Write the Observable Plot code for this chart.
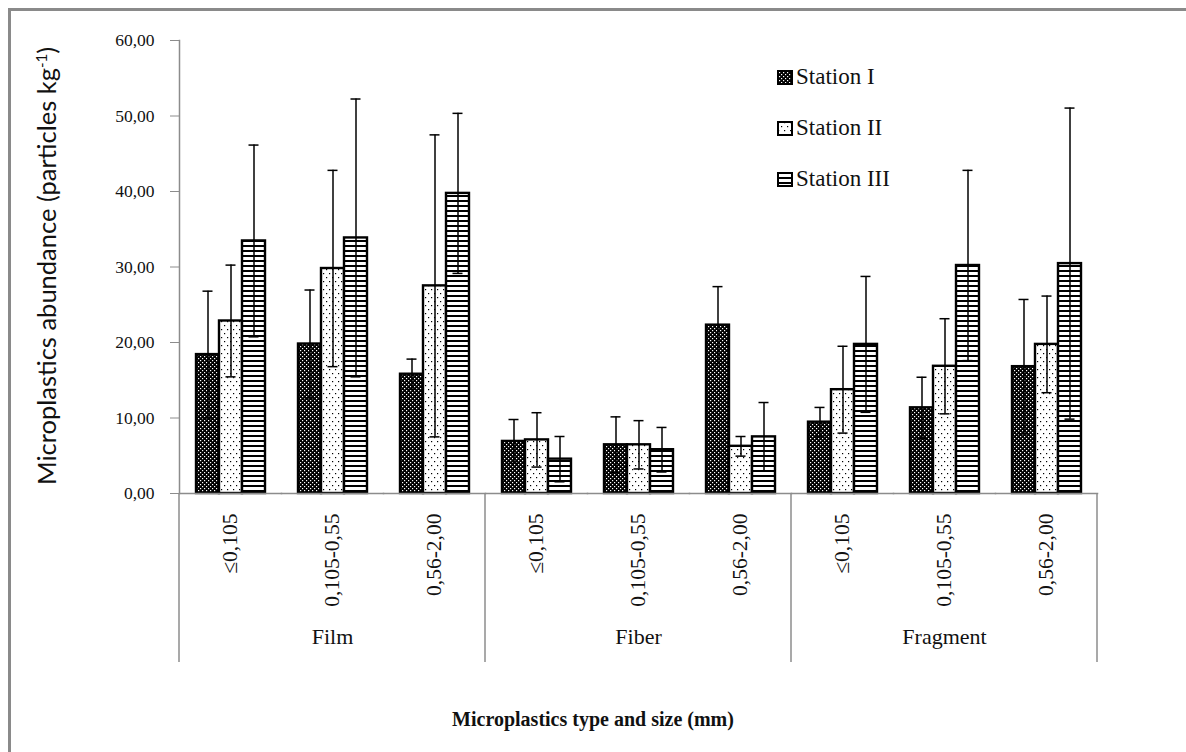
<!DOCTYPE html>
<html>
<head>
<meta charset="utf-8">
<script src="https://cdn.jsdelivr.net/npm/d3@7"></script>
<script src="https://cdn.jsdelivr.net/npm/@observablehq/plot@0.6"></script>
<style>
  html, body { margin: 0; padding: 0; background: #fff; }
  #wrap { position: relative; width: 1186px; height: 752px; overflow: hidden; background: #fff; }
  #border { position: absolute; left: 8px; top: 8px; width: 1300px; height: 900px; border-top: 3px solid #8a8a8a; border-left: 3px solid #8a8a8a; box-sizing: border-box; }
  #chart { position: absolute; left: 0; top: 0; }
  #ytitle { position: absolute; left: 46px; top: 266px; transform: translate(-50%, -50%) rotate(-90deg); white-space: nowrap; font-family: Lato, "Open Sans", sans-serif; font-size: 25.5px; color: #111; }
  #ytitle sup { font-size: 15px; }
  #xtitle { position: absolute; left: 593px; top: 719px; transform: translate(-50%, -50%); white-space: nowrap; font-family: "Liberation Serif", "Times New Roman", serif; font-weight: bold; font-size: 20px; color: #111; }
  .leg { position: absolute; left: 777px; display: flex; align-items: center; font-family: "Liberation Serif", "Times New Roman", serif; font-size: 23px; color: #111; white-space: nowrap; height: 30px; }
  .leg svg { margin-right: 3px; }
</style>
</head>
<body>
<svg width="0" height="0" style="position:absolute">
  <defs>
    <pattern id="pI" patternUnits="userSpaceOnUse" width="4" height="4">
      <rect width="4" height="4" fill="#000"/>
      <rect x="0" y="0" width="1.2" height="1.2" fill="#fff"/>
      <rect x="2" y="2" width="1.2" height="1.2" fill="#fff"/>
    </pattern>
    <pattern id="pII" patternUnits="userSpaceOnUse" width="6" height="8">
      <rect width="6" height="8" fill="#fff"/>
      <rect x="1" y="1" width="1.2" height="1.2" fill="#000"/>
      <rect x="4" y="5" width="1.2" height="1.2" fill="#000"/>
    </pattern>
    <pattern id="pIII" patternUnits="userSpaceOnUse" width="10" height="5">
      <rect width="10" height="5" fill="#fff"/>
      <rect x="0" y="0" width="10" height="2" fill="#000"/>
    </pattern>
  </defs>
</svg>
<div id="wrap">
  <div id="border"></div>
  <div id="chart"></div>
  <div id="ytitle">Microplastics abundance (particles kg<sup>-1</sup>)</div>
  <div id="xtitle">Microplastics type and size (mm)</div>
</div>
<script>
// ---- data ----
const types = ["Film", "Fiber", "Fragment"];
const sizes = ["≤0,105", "0,105-0,55", "0,56-2,00"];
const stations = ["Station I", "Station II", "Station III"];
// values in order: Film(3 sizes), Fiber(3 sizes), Fragment(3 sizes)
const stationI   = [18.4, 19.8, 15.8, 6.9, 6.45, 22.3, 9.45, 11.35, 16.8];
const stationII  = [22.85, 29.8, 27.5, 7.1, 6.45, 6.25, 13.75, 16.85, 19.75];
const stationIII = [33.45, 33.85, 39.75, 4.55, 5.8, 7.5, 19.75, 30.2, 30.45];
const errI   = [8.4, 7.15, 2.0, 2.9, 3.7, 5.1, 1.95, 4.05, 8.9];
const errII  = [7.4, 13.0, 20.0, 3.6, 3.2, 1.3, 5.75, 6.3, 6.4];
const errIII = [12.7, 18.4, 10.6, 3.0, 2.95, 4.55, 9.0, 12.6, 20.6];
const yTicks = [0, 10, 20, 30, 40, 50, 60];
const patterns = ["url(#pI)", "url(#pII)", "url(#pIII)"];

// ---- build table ----
const keys = types.flatMap(t => sizes.map(s => t + "|" + s));
const vals = [stationI, stationII, stationIII];
const errs = [errI, errII, errIII];
const rows = keys.flatMap((k, i) => stations.map((st, j) => ({
  key: k, station: st, value: vals[j][i], err: errs[j][i]
})));
const groupMid = types.map(t => ({key: t + "|" + sizes[1], type: t}));

const serif = "'Liberation Serif', 'Times New Roman', serif";
const gray = "#8c8c8c";

const plot = Plot.plot({
  width: 1186,
  height: 752,
  marginTop: 40,
  marginBottom: 259,
  marginLeft: 175,
  marginRight: 85,
  style: {background: "transparent", overflow: "visible", color: "#111"},
  fx: {domain: keys, padding: 0, axis: null},
  x: {domain: stations, paddingInner: 0, paddingOuter: 0.71, axis: null},
  y: {domain: [0, 60], axis: null},
  color: {domain: stations, range: patterns},
  marks: [
    Plot.barY(rows, {fx: "key", x: "station", y: "value", fill: "station", stroke: "#000", strokeWidth: 2.4}),
    Plot.ruleX(rows, {fx: "key", x: "station", y1: d => d.value - d.err, y2: d => d.value + d.err, stroke: "#000", strokeWidth: 1.5}),
    Plot.tickY(rows, {fx: "key", x: "station", y: d => d.value + d.err, stroke: "#000", strokeWidth: 1.5, insetLeft: 6.5, insetRight: 6.5}),
    Plot.tickY(rows, {fx: "key", x: "station", y: d => d.value - d.err, stroke: "#000", strokeWidth: 1.5, insetLeft: 6.5, insetRight: 6.5}),
    Plot.frame({anchor: "bottom", stroke: gray, strokeWidth: 1.5}),
    Plot.frame({anchor: "left", stroke: gray, strokeWidth: 1.5, facetAnchor: "left"}),
    Plot.axisY(yTicks, {
      anchor: "left", label: null, tickSize: 9, tickPadding: 16,
      tickFormat: d => d.toFixed(2).replace(".", ","),
      stroke: gray, fill: "#111", fontSize: 17.5, fontFamily: serif
    }),
    Plot.axisFx({
      anchor: "bottom", label: null, tickSize: 0, tickPadding: 20, tickRotate: -90,
      tickFormat: k => k.split("|")[1], fill: "#111", fontSize: 21.5, fontFamily: serif
    }),
    Plot.text(groupMid, {fx: "key", text: "type", frameAnchor: "bottom", dy: 150, fontSize: 22, fontFamily: serif, fill: "#111"})
  ]
});

document.getElementById("chart").appendChild(plot);

// group separators below the axis, positioned through Plot's fx and y scales
const fxS = plot.scale("fx");
const yS = plot.scale("y");
const y0 = yS.apply(0);
const bounds = types.map(t => fxS.apply(t + "|" + sizes[0]));
bounds.push(fxS.apply(types[types.length - 1] + "|" + sizes[sizes.length - 1]) + fxS.bandwidth);
d3.select(plot).append("g")
  .selectAll("line").data(bounds).join("line")
  .attr("x1", d => d).attr("x2", d => d)
  .attr("y1", y0).attr("y2", y0 + 169)
  .attr("stroke", gray).attr("stroke-width", 1.5);

// legend
const wrap = document.getElementById("wrap");
const legTops = [77, 128, 179];
stations.forEach((s, i) => {
  const div = document.createElement("div");
  div.className = "leg";
  div.style.top = (legTops[i] - 15) + "px";
  div.innerHTML = `<svg width="16" height="15"><rect x="1" y="1" width="14" height="13" fill="${patterns[i]}" stroke="#000" stroke-width="2"/></svg><span>${s}</span>`;
  wrap.appendChild(div);
});
</script>
</body>
</html>
